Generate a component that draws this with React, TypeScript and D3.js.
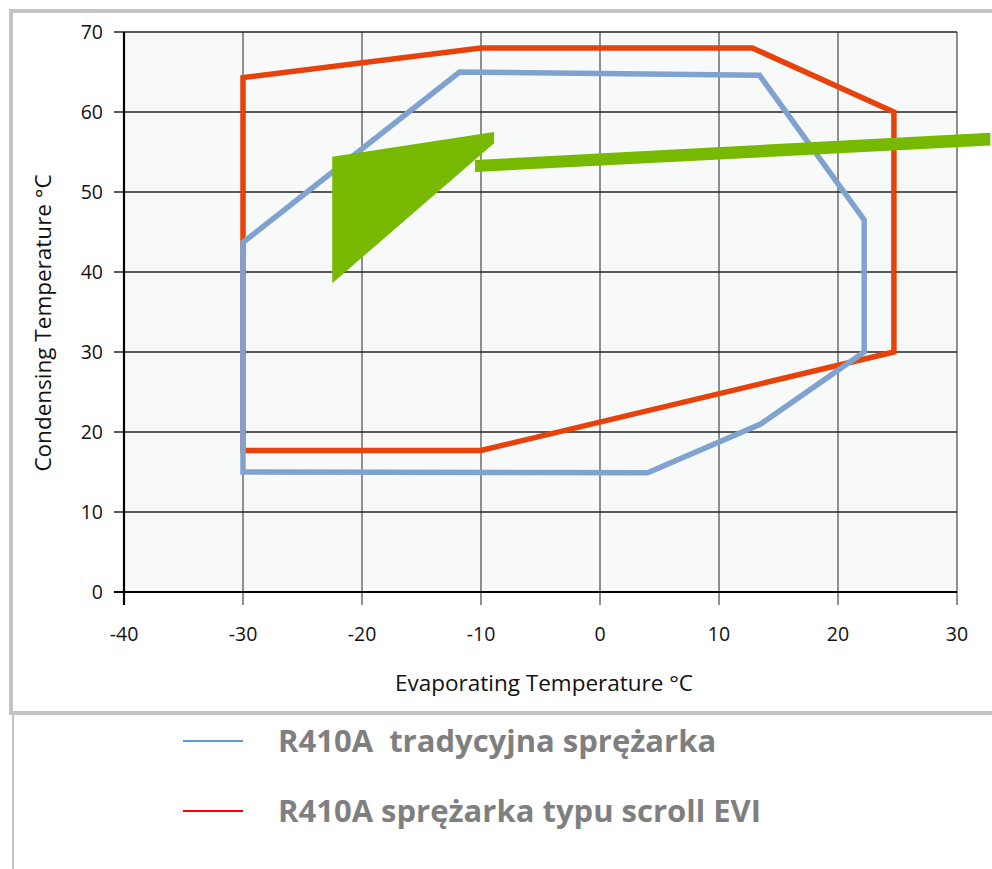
import React from 'react';
import * as d3 from 'd3';

// evaporating / condensing temperature envelope points (°C)
const traditionalEnvelope: [number, number][] = [
  [-30, 15],
  [-30, 43.7],
  [-11.8, 65],
  [13.4, 64.6],
  [22.2, 46.5],
  [22.2, 30],
  [13.5, 21],
  [4, 14.9],
];

const scrollEviEnvelope: [number, number][] = [
  [-30, 17.7],
  [-30, 64.3],
  [-10, 68],
  [12.8, 68],
  [24.7, 60],
  [24.7, 30],
  [-10, 17.7],
];

// green arrow annotation, in data units
const arrowHead: [number, number][] = [
  [-22.5, 54.4],
  [-8.9, 57.5],
  [-8.9, 56.1],
  [-22.5, 38.6],
];
const arrowShaft: [number, number][] = [
  [-10.5, 54],
  [32.8, 57.4],
  [32.8, 55.8],
  [-10.5, 52.5],
];

const xTicks = [-40, -30, -20, -10, 0, 10, 20, 30];
const yTicks = [0, 10, 20, 30, 40, 50, 60, 70];

const legendItems = [
  { label: 'R410A  tradycyjna sprężarka', color: '#5b9bd5' },
  { label: 'R410A sprężarka typu scroll EVI', color: '#ff0000' },
];

const W = 992;
const H = 869;
const plot = { left: 124, right: 957, top: 32, bottom: 592 };

const App: React.FC = () => {
  const x = d3.scaleLinear().domain([-40, 30]).range([plot.left, plot.right]);
  const y = d3.scaleLinear().domain([0, 70]).range([plot.bottom, plot.top]);

  const line = d3
    .line<[number, number]>()
    .x(d => x(d[0]))
    .y(d => y(d[1]))
    .curve(d3.curveLinearClosed);

  const font = '"Open Sans", "DejaVu Sans", sans-serif';

  return (
    <svg
      width={W}
      height={H}
      style={{ position: 'absolute', left: 0, top: 0, background: '#fff' }}
    >
      {/* outer frame */}
      <rect x={11} y={11} width={W + 20} height={702} fill="#fff" stroke="#c4c4c4" strokeWidth={4} />
      <line x1={13} x2={13} y1={715} y2={H} stroke="#c4c4c4" strokeWidth={2} />

      {/* plot background */}
      <rect
        x={plot.left}
        y={plot.top}
        width={plot.right - plot.left}
        height={plot.bottom - plot.top}
        fill="#f8fafa"
      />

      {/* grid */}
      {xTicks.map(t => (
        <line key={'gx' + t} x1={x(t)} x2={x(t)} y1={plot.top} y2={plot.bottom + 13} stroke="#555" strokeWidth={1.3} />
      ))}
      {yTicks.map(t => (
        <line key={'gy' + t} x1={plot.left - 10} x2={plot.right} y1={y(t)} y2={y(t)} stroke="#222" strokeWidth={1.3} />
      ))}
      {/* axes */}
      <line x1={plot.left} x2={plot.left} y1={plot.top} y2={plot.bottom + 13} stroke="#000" strokeWidth={2.2} />
      <line x1={plot.left - 10} x2={plot.right} y1={plot.bottom} y2={plot.bottom} stroke="#000" strokeWidth={2.2} />

      {/* tick labels */}
      {yTicks.map(t => (
        <text key={'ly' + t} x={103} y={y(t)} dy="0.36em" textAnchor="end" fontFamily={font} fontSize={19.5} fill="#111">
          {t}
        </text>
      ))}
      {xTicks.map(t => (
        <text key={'lx' + t} x={x(t)} y={641} textAnchor="middle" fontFamily={font} fontSize={19.5} fill="#111">
          {t}
        </text>
      ))}

      {/* axis titles */}
      <text x={544} y={691} textAnchor="middle" fontFamily={font} fontSize={22.5} fill="#111">
        Evaporating Temperature °C
      </text>
      <text
        transform={`translate(51,${323}) rotate(-90)`}
        textAnchor="middle"
        fontFamily={font}
        fontSize={22.5}
        fill="#111"
      >
        Condensing Temperature °C
      </text>

      {/* envelopes */}
      <path d={line(scrollEviEnvelope) ?? ''} fill="none" stroke="#e8420c" strokeWidth={5.5} strokeLinejoin="miter" />
      <path d={line(traditionalEnvelope) ?? ''} fill="none" stroke="#80a2cf" strokeWidth={5.5} strokeLinejoin="miter" />

      {/* arrow annotation */}
      <path d={line(arrowHead) ?? ''} fill="#77b900" />
      <path d={line(arrowShaft) ?? ''} fill="#77b900" />

      {/* legend */}
      {legendItems.map((d, i) => (
        <g key={d.label} transform={`translate(0,${741 + i * 70})`}>
          <line x1={183} x2={243} y1={0} y2={0} stroke={d.color} strokeWidth={2} />
          <text
            x={278}
            y={0}
            dy="0.35em"
            fontFamily={font}
            fontWeight="bold"
            fontSize={31}
            fill="#7f7f7f"
            style={{ whiteSpace: 'pre' }}
          >
            {d.label}
          </text>
        </g>
      ))}
    </svg>
  );
};

export default App;
